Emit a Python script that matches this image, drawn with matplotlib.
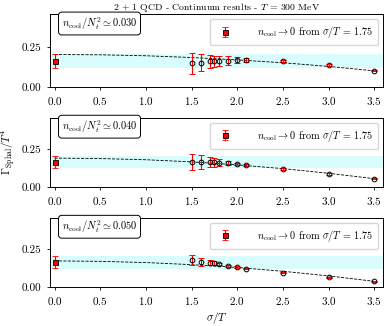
import numpy as np
import matplotlib
matplotlib.use('Agg')
import matplotlib.pyplot as plt

plt.rcParams['font.family'] = 'cmr10'
plt.rcParams['mathtext.fontset'] = 'cm'
plt.rcParams['axes.formatter.use_mathtext'] = True

sigma = [1.5, 1.6, 1.7, 1.75, 1.8, 1.9, 2.0, 2.1, 2.5, 3.0, 3.5]
ratios = ['0.030', '0.040', '0.050']

gamma = [
    [0.150, 0.154, 0.161, 0.161, 0.163, 0.167, 0.172, 0.172, 0.163, 0.139, 0.102],
    [0.167, 0.165, 0.165, 0.163, 0.161, 0.156, 0.150, 0.143, 0.119, 0.085, 0.054],
    [0.176, 0.167, 0.160, 0.157, 0.152, 0.141, 0.130, 0.121, 0.095, 0.063, 0.037],
]
gamma_err = [
    [0.065, 0.054, 0.038, 0.036, 0.033, 0.027, 0.018, 0.013, 0.006, 0.005, 0.004],
    [0.054, 0.047, 0.035, 0.030, 0.022, 0.013, 0.008, 0.006, 0.005, 0.004, 0.004],
    [0.033, 0.025, 0.016, 0.012, 0.009, 0.007, 0.006, 0.005, 0.005, 0.004, 0.004],
]

# extrapolated value (n_cool -> 0 from sigma/T = 1.75)
extrap = [0.164, 0.164, 0.166]
extrap_err = [0.041, 0.041, 0.041]
band_lo, band_hi = 0.122, 0.206

# dashed fit curve
curve_x = [0.0, 0.5, 1.0, 1.5, 2.0, 2.5, 3.0, 3.5]
curve_y = [
    [0.205, 0.203, 0.197, 0.186, 0.171, 0.153, 0.130, 0.102],
    [0.191, 0.188, 0.180, 0.166, 0.146, 0.121, 0.090, 0.054],
    [0.173, 0.170, 0.162, 0.148, 0.129, 0.104, 0.073, 0.037],
]

fig = plt.figure(figsize=(3.89, 3.26), dpi=100)
boxes = [[0.1285, 0.733, 0.857, 0.224],
         [0.1285, 0.427, 0.857, 0.212],
         [0.1285, 0.120, 0.857, 0.212]]

for i in range(3):
    ax = fig.add_axes(boxes[i])
    ax.axhspan(band_lo, band_hi, color='#d9fcfc', lw=0, zorder=0)
    ax.plot(curve_x, curve_y[i], '--', color='black', lw=0.6, zorder=1)
    ax.errorbar(sigma, gamma[i], yerr=gamma_err[i], fmt='o', ms=3.4, mfc='none',
                mec='black', mew=0.7, ecolor='red', elinewidth=0.8, capsize=2,
                capthick=0.8, zorder=3)
    ax.errorbar([0.0], [extrap[i]], yerr=[extrap_err[i]], fmt='s', ms=3.6,
                mfc='red', mec='black', mew=0.6, ecolor='red', elinewidth=0.8,
                capsize=2, capthick=0.8, zorder=4,
                label=r'$n_{\rm cool}\to 0$ from $\sigma/T$ = 1.75')
    ax.set_xlim(-0.05, 3.6)
    ax.set_ylim(0, 0.46)
    ax.set_xticks([0.0, 0.5, 1.0, 1.5, 2.0, 2.5, 3.0, 3.5])
    ax.set_yticks([0.0, 0.25])
    ax.set_yticklabels(['0.00', '0.25'])
    ax.tick_params(labelsize=8, length=2.5, width=0.6)
    for s in ax.spines.values():
        s.set_linewidth(0.7)
    ax.legend(loc='upper right', fontsize=7.3, handletextpad=2.2,
              borderpad=0.5, framealpha=0.8, edgecolor='#cccccc')
    ax.text(0.035, 0.87, r'$n_{\rm cool}/N_t^2\simeq %s$' % ratios[i],
            transform=ax.transAxes, fontsize=7.5, va='center', ha='left',
            bbox=dict(boxstyle='round,pad=0.3', fc='white', ec='black', lw=0.7))
    if i == 0:
        ax.set_title(r'2 + 1 QCD - Continuum results - $T$ = 300 MeV',
                     fontsize=7, pad=3)
    if i == 1:
        ax.set_ylabel(r'$\Gamma_{\rm Sphal}/T^4$', fontsize=8, labelpad=3)
    if i == 2:
        ax.set_xlabel(r'$\sigma/T$', fontsize=8, labelpad=2)

fig.savefig('out.png', dpi=100)
